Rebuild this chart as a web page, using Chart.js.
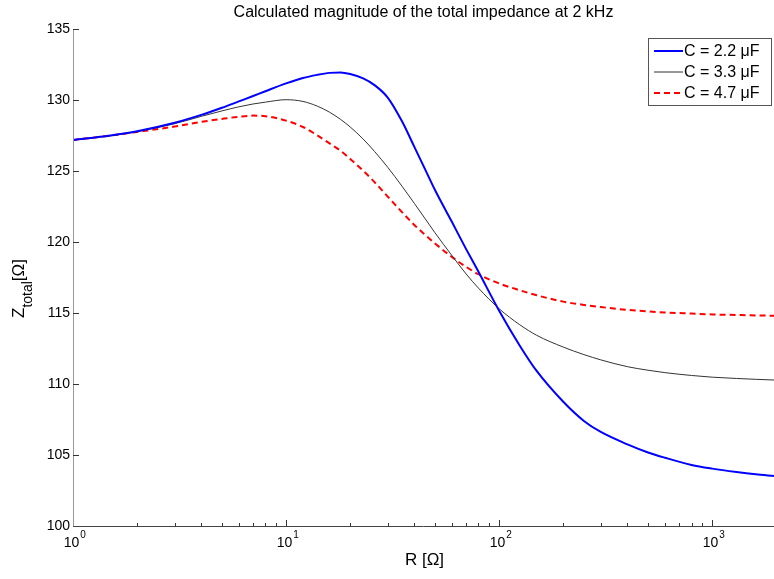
<!DOCTYPE html>
<html>
<head>
<meta charset="utf-8">
<script src="https://cdn.jsdelivr.net/npm/chart.js@4"></script>
<style>
  html, body { margin: 0; padding: 0; background: #fff; }
  #wrap { width: 774px; height: 579px; }
</style>
</head>
<body>
<div id="wrap"><canvas id="zChart" width="774" height="579"></canvas></div>
<script>
// resistance values (ohm), shared by all curves
const resistance = [1, 1.5, 2, 3, 4, 5, 6, 7, 8, 10, 12, 14, 16, 18, 20, 23, 26, 30, 35, 40, 45, 50, 60, 70, 80, 100, 125, 150, 200, 250, 300, 400, 500, 600, 800, 1000, 1300, 1600, 1950];

// |Z_total|
const z22 = [127.18, 127.5, 127.8, 128.4, 128.95, 129.45, 129.9, 130.28, 130.62, 131.17, 131.55, 131.77, 131.91, 131.94, 131.83, 131.52, 131.05, 130.17, 128.5, 126.7, 125.1, 123.66, 121.42, 119.5, 117.9, 115.16, 112.7, 110.92, 108.75, 107.4, 106.62, 105.75, 105.18, 104.81, 104.3, 104.04, 103.8, 103.64, 103.52];
const z33 = [127.18, 127.48, 127.77, 128.33, 128.85, 129.23, 129.52, 129.72, 129.85, 130.02, 129.9, 129.57, 129.14, 128.64, 128.1, 127.25, 126.38, 125.26, 123.93, 122.72, 121.63, 120.65, 119.05, 117.75, 116.75, 115.3, 114.17, 113.43, 112.6, 112.07, 111.7, 111.22, 110.97, 110.8, 110.6, 110.48, 110.39, 110.33, 110.28];
const z47 = [127.18, 127.5, 127.75, 128.13, 128.46, 128.67, 128.82, 128.9, 128.86, 128.55, 128.1, 127.51, 126.94, 126.43, 125.85, 125.02, 124.22, 123.2, 122.1, 121.2, 120.5, 119.9, 118.95, 118.25, 117.73, 117.08, 116.6, 116.25, 115.8, 115.57, 115.42, 115.22, 115.11, 115.04, 114.96, 114.9, 114.86, 114.83, 114.81];

const seriesLabels = ["C = 2.2 \u03BCF", "C = 3.3 \u03BCF", "C = 4.7 \u03BCF"];
const yTicks = [100, 105, 110, 115, 120, 125, 130, 135];
const xDecades = [1, 10, 100, 1000];
const xExponents = ["0", "1", "2", "3"];

const FONT = '"Liberation Sans", Arial, sans-serif';

function pts(ys) {
  return resistance.map((r, i) => ({ x: r, y: ys[i] }));
}

const decorations = {
  id: "decorations",
  afterDraw(chart) {
    const ctx = chart.ctx;
    const a = chart.chartArea;
    const xs = chart.scales.x;
    const ys = chart.scales.y;
    ctx.save();

    // axes
    ctx.lineWidth = 1;
    ctx.strokeStyle = "#999";
    ctx.beginPath();
    ctx.moveTo(a.left + 0.5, a.top);
    ctx.lineTo(a.left + 0.5, a.bottom);
    ctx.stroke();
    ctx.strokeStyle = "#444";
    ctx.beginPath();
    ctx.moveTo(a.left, a.bottom + 0.5);
    ctx.lineTo(a.right, a.bottom + 0.5);
    ctx.stroke();

    // y ticks + labels
    ctx.fillStyle = "#000";
    ctx.font = "14px " + FONT;
    ctx.textAlign = "right";
    ctx.textBaseline = "middle";
    ctx.strokeStyle = "#333";
    yTicks.forEach((v) => {
      const y = Math.round(ys.getPixelForValue(v)) + 0.5;
      if (v !== 100) {
        ctx.beginPath();
        ctx.moveTo(a.left, y);
        ctx.lineTo(a.left + 6, y);
        ctx.stroke();
      }
      ctx.fillText(String(v), a.left - 3, y);
    });

    // x ticks (major + minor) and 10^n labels
    xDecades.forEach((d, i) => {
      const x = Math.round(xs.getPixelForValue(d)) + 0.5;
      if (d !== 1) {
        ctx.beginPath();
        ctx.moveTo(x, a.bottom);
        ctx.lineTo(x, a.bottom - 6);
        ctx.stroke();
      }
      for (let m = 2; m <= 9; m++) {
        const v = d * m;
        if (v > xs.max) break;
        const xm = Math.round(xs.getPixelForValue(v)) + 0.5;
        ctx.beginPath();
        ctx.moveTo(xm, a.bottom);
        ctx.lineTo(xm, a.bottom - 3);
        ctx.stroke();
      }
      ctx.textBaseline = "alphabetic";
      ctx.textAlign = "center";
      ctx.font = "14px " + FONT;
      ctx.fillText("10", x - 2, a.bottom + 21);
      const w = ctx.measureText("10").width;
      ctx.textAlign = "left";
      ctx.font = "10px " + FONT;
      ctx.fillText(xExponents[i], x - 2 + w / 2 + 1, a.bottom + 12);
    });

    // title
    ctx.textAlign = "center";
    ctx.textBaseline = "alphabetic";
    ctx.font = "16px " + FONT;
    ctx.fillText("Calculated magnitude of the total impedance at 2 kHz", (a.left + a.right) / 2, 17);

    // x label
    ctx.font = "17px " + FONT;
    ctx.fillText("R [\u03A9]", (a.left + a.right) / 2 + 1, 565);

    // y label, rotated, with subscript
    ctx.save();
    ctx.translate(24, 318);
    ctx.rotate(-Math.PI / 2);
    ctx.textAlign = "left";
    let x0 = 0;
    ctx.font = "17px " + FONT;
    ctx.fillText("Z", x0, 0);
    x0 += ctx.measureText("Z").width;
    ctx.font = "14px " + FONT;
    ctx.fillText("total", x0, 8);
    x0 += ctx.measureText("total").width;
    ctx.font = "17px " + FONT;
    ctx.fillText("[\u03A9]", x0, 0);
    ctx.restore();

    // legend
    const box = { l: 648, t: 38, r: 771, b: 105 };
    ctx.fillStyle = "#fff";
    ctx.fillRect(box.l, box.t, box.r - box.l, box.b - box.t);
    ctx.strokeStyle = "#555";
    ctx.lineWidth = 1;
    ctx.strokeRect(box.l + 0.5, box.t + 0.5, box.r - box.l, box.b - box.t);
    const rows = [51, 72, 93];
    chart.data.datasets.forEach((ds, i) => {
      const y = rows[i];
      ctx.strokeStyle = ds.borderColor;
      ctx.lineWidth = ds.borderWidth;
      ctx.setLineDash(ds.borderDash || []);
      ctx.beginPath();
      ctx.moveTo(654, y);
      ctx.lineTo(683, y);
      ctx.stroke();
      ctx.setLineDash([]);
      ctx.fillStyle = "#000";
      ctx.font = "16px " + FONT;
      ctx.textAlign = "left";
      ctx.textBaseline = "middle";
      ctx.fillText(ds.label, 684, y + 1);
    });

    ctx.restore();
  }
};

new Chart(document.getElementById("zChart"), {
  type: "line",
  data: {
    datasets: [
      { label: seriesLabels[0], data: pts(z22), borderColor: "#0000ff", borderWidth: 2, pointRadius: 0, cubicInterpolationMode: "monotone" },
      { label: seriesLabels[1], data: pts(z33), borderColor: "#333333", borderWidth: 1, pointRadius: 0, cubicInterpolationMode: "monotone" },
      { label: seriesLabels[2], data: pts(z47), borderColor: "#ff0000", borderWidth: 2, borderDash: [6, 4], pointRadius: 0, cubicInterpolationMode: "monotone" }
    ]
  },
  options: {
    responsive: false,
    animation: false,
    layout: { padding: { left: 73, top: 29, right: 0, bottom: 53 } },
    scales: {
      x: { type: "logarithmic", min: 1, max: 1950, display: false },
      y: { type: "linear", min: 100, max: 135, display: false }
    },
    plugins: {
      legend: { display: false },
      tooltip: { enabled: false }
    }
  },
  plugins: [decorations]
});
</script>
</body>
</html>
